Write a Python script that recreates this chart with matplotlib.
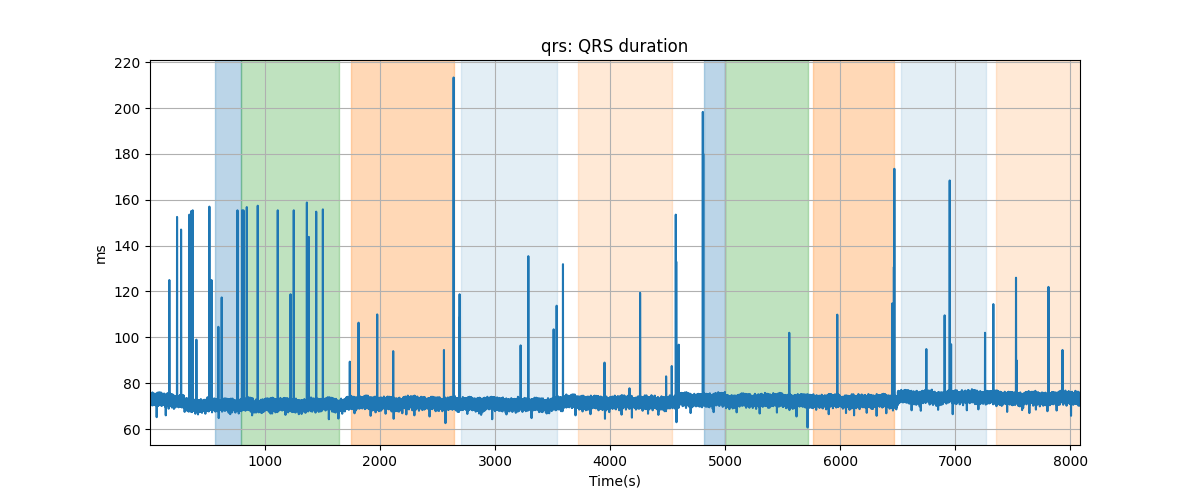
import numpy as np
import matplotlib
matplotlib.use("Agg")
import matplotlib.pyplot as plt

# time axis (s)
t_start = 3
t_end = 8084

# baseline QRS level per segment (ms)
seg_edges = [0, 300, 1700, 2650, 3600, 4600, 5000, 5700, 6500, 7300, 8090]
seg_levels = [72.6, 70.6, 71.4, 70.9, 71.7, 72.8, 72.6, 72.2, 74.0, 73.5]

# slow wander of the band, one value per 100 s block (ms)
block_offset = [0.6, 0.2, -0.3, 0.1, -0.4, 0.3, 0.0, -0.2, 0.4, -0.5, 0.1, 0.3, -0.1,
                -0.4, 0.2, 0.5, -0.3, 0.0, 0.4, -0.2, 0.1, -0.5, 0.3, 0.2, -0.1, -0.4,
                0.0, 0.3, -0.2, 0.5, 0.1, -0.3, 0.2, 0.0, -0.4, 0.3, 0.6, -0.1, 0.2,
                -0.3, 0.0, 0.4, -0.2, 0.1, -0.5, 0.2, 0.3, -0.1, 0.0, 0.4, -0.3, 0.2,
                -0.2, 0.1, 0.3, -0.4, 0.0, 0.2, -0.1, 0.5, -0.3, 0.1, 0.0, 0.3, -0.2,
                0.4, -0.1, 0.2, -0.3, 0.1, 0.0, 0.3, -0.2, 0.4, 0.1, -0.3, 0.2, 0.0,
                -0.1, 0.3, 0.1]

# beat-to-beat jitter (ms)
jitter_a = [0.8, -1.9, 2.2, -0.6, 1.5, -2.6, 0.3, 2.5, -1.2, -0.2, 1.8, -2.3, 0.6,
            -1.5, 2.0, -0.9, 1.1, -3.1, 0.1, 1.7, -1.0, 2.4, -2.0, 0.4, -0.4, 1.3,
            -1.7, 1.9, -0.7]
jitter_b = [0.0, 0.3, -0.4, 0.2, 0.5, -0.3, 0.1, -0.8, 0.4, 0.0, -0.2, 0.6, -0.5,
            0.2, -0.1, 0.3, -0.4, 0.5, 0.0, -0.3, 0.2, 0.4, -0.9, 0.1, -0.2, 0.3,
            0.0, -0.5, 0.4, -0.1, 0.2]

# downward outliers (time, ms)
dip_t = [61, 140, 420, 600, 700, 890, 1050, 1180, 1320, 1557, 1640, 1780, 1920, 2050,
         2120, 2230, 2300, 2432, 2570, 2760, 2880, 2976, 3100, 3318, 3450, 3700,
         3830, 3956, 4100, 4190, 4330, 4420, 4577, 4700, 4900, 5100, 5300, 5450,
         5620, 5716, 5900, 6050, 6120, 6230, 6316, 6400, 6620, 6700, 6850, 6977,
         7100, 7200, 7450, 7580, 7643, 7700, 7800, 7880, 8005]
dip_v = [65.2, 66.0, 66.4, 64.8, 66.5, 66.0, 66.8, 66.2, 66.6, 64.3, 64.6, 66.9, 65.8,
         66.7, 64.5, 66.4, 66.0, 65.5, 62.6, 66.6, 66.2, 64.3, 66.4, 64.8, 66.8, 66.0,
         66.5, 64.5, 66.3, 65.0, 66.7, 66.2, 63.0, 67.0, 67.4, 67.3, 66.8, 67.2,
         65.5, 60.7, 66.5, 67.0, 66.0, 67.1, 65.8, 66.9, 68.2, 68.0, 68.4, 66.5,
         68.2, 68.6, 67.5, 68.3, 67.0, 68.5, 67.8, 68.1, 65.8]

# upward spikes (time, ms)
spike_t = [171, 172, 238, 273, 345, 360, 374, 406, 519, 537, 597, 626, 763, 803, 815,
           844, 939, 1113, 1224, 1252, 1366, 1383, 1447, 1505, 1739, 1815, 1977,
           2116, 2557, 2641, 2693, 2696, 3223, 3290, 3510, 3536, 3591, 3952, 4169,
           4261, 4487, 4536, 4571, 4575, 4597, 4806, 4810, 5557, 5974, 6452, 6466,
           6470, 6748, 6907, 6951, 6963, 7258, 7330, 7527, 7531, 7809, 7931]
spike_v = [125.0, 98.0, 152.5, 147.0, 153.5, 155.0, 155.4, 99.0, 157.0, 125.0, 104.6,
           117.4, 155.4, 155.4, 155.4, 156.8, 157.4, 155.4, 118.8, 155.4, 158.8, 143.8,
           154.8, 155.8, 89.4, 106.4, 110.0, 94.0, 94.5, 213.3, 118.8, 109.0, 96.5,
           135.4, 103.5, 113.8, 131.9, 89.0, 77.8, 119.4, 83.0, 87.5, 153.5, 133.0,
           96.8, 198.3, 180.0, 102.0, 109.9, 114.8, 130.7, 173.5, 94.9, 109.6, 168.4,
           97.0, 102.0, 114.5, 126.0, 90.0, 122.0, 94.5]

# annotated segments: (start, end, colour, alpha)
span_start = [571, 791, 1745, 2702, 3720, 4817, 4997, 5766, 6528, 7354]
span_end = [791, 1643, 2647, 3542, 4534, 4997, 5717, 6467, 7264, 8090]
span_color = ["tab:blue", "tab:green", "tab:orange", "tab:blue", "tab:orange",
              "tab:blue", "tab:green", "tab:orange", "tab:blue", "tab:orange"]
span_alpha = [0.3, 0.3, 0.3, 0.12, 0.17, 0.3, 0.3, 0.3, 0.12, 0.17]

t = np.arange(t_start, t_end)
n = len(t)
idx = np.searchsorted(seg_edges, t, side="right") - 1
qrs = np.array(seg_levels)[idx] + np.array(block_offset)[t // 100]
qrs = qrs + np.resize(jitter_a, n) + np.resize(jitter_b, n)
qrs[np.array(dip_t) - t_start] = dip_v
qrs[np.array(spike_t) - t_start] = spike_v

fig, ax = plt.subplots(figsize=(12, 5))
for s, e, c, a in zip(span_start, span_end, span_color, span_alpha):
    ax.axvspan(s, e, color=c, alpha=a)
ax.plot(t, qrs, color="tab:blue")
ax.set_xlim(t[0], t[-1])
ax.set_title("qrs: QRS duration")
ax.set_xlabel("Time(s)")
ax.set_ylabel("ms")
ax.grid(True)
plt.savefig("out.png")
